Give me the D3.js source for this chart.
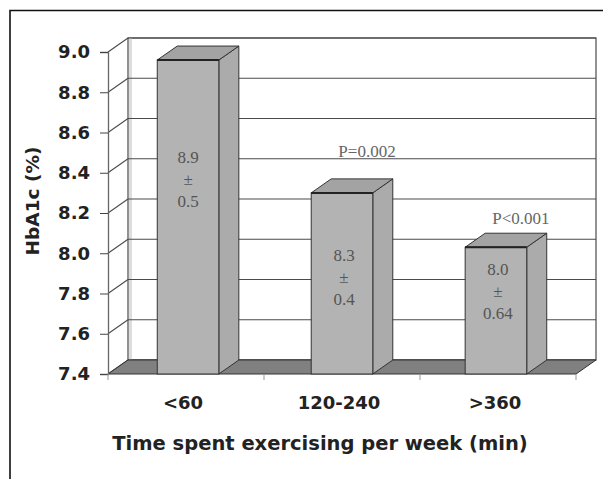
<!DOCTYPE html>
<html>
<head>
<meta charset="utf-8">
<script src="https://cdn.jsdelivr.net/npm/d3@7"></script>
<style>
  html, body { margin: 0; padding: 0; background: #fff; }
  svg { display: block; }
</style>
</head>
<body>
<svg id="chart" width="603" height="479"></svg>
<script>
// ---- data ----
const categories = ["<60", "120-240", ">360"];
const values = [8.96, 8.30, 8.03];
const meanLabels = ["8.9", "8.3", "8.0"];
const sdLabels = ["0.5", "0.4", "0.64"];
const labelAnchor = [8.37, 7.88, 7.81];          // value level of the "±" line
const pLabels = ["", "P=0.002", "P<0.001"];
const pAnchor = [null, 8.51, 8.175];             // value level of the P text
const yTicks = [7.4, 7.6, 7.8, 8.0, 8.2, 8.4, 8.6, 8.8, 9.0];
const yTitle = "HbA1c (%)";
const xTitle = "Time spent exercising per week (min)";

// ---- layout ----
const svg = d3.select("#chart");
const X0 = 108, X1 = 576, Y0 = 374, Y1 = 52;
const DX = 20, DY = -14;
const sans = "DejaVu Sans, Verdana, sans-serif";
const serif = "Liberation Serif, Times New Roman, serif";

const y = d3.scaleLinear().domain([7.4, 9.0]).range([Y0, Y1]);
const xCat = d3.scaleBand().domain(categories).range([X0, X1]).padding(0);
const xBar = d3.scaleBand().domain(categories).range([X0, X1]).paddingInner(0.6).paddingOuter(0.32);

// frame
svg.append("path").attr("d", `M10,479 L10,10.5 L603,10.5`)
  .attr("fill", "none").attr("stroke", "#111").attr("stroke-width", 1.6);

const grid = "#4a4a4a";

// back wall
svg.append("rect").attr("x", X0 + DX).attr("y", Y1 + DY)
  .attr("width", X1 - X0).attr("height", Y0 - Y1)
  .attr("fill", "#fff").attr("stroke", grid).attr("stroke-width", 1.2);
svg.append("rect").attr("x", X0 + DX + 1).attr("y", Y1 + DY)
  .attr("width", 3).attr("height", Y0 - Y1).attr("fill", "#ddd");

// gridlines on back wall + left wall
yTicks.forEach(t => {
  svg.append("line").attr("x1", X0 + DX).attr("x2", X1 + DX)
    .attr("y1", y(t) + DY).attr("y2", y(t) + DY)
    .attr("stroke", grid).attr("stroke-width", 1.1);
  svg.append("line").attr("x1", X0).attr("x2", X0 + DX)
    .attr("y1", y(t)).attr("y2", y(t) + DY)
    .attr("stroke", grid).attr("stroke-width", 1.1);
});

// floor
svg.append("path")
  .attr("d", `M${X0},${Y0} L${X1},${Y0} L${X1 + DX},${Y0 + DY} L${X0 + DX},${Y0 + DY} Z`)
  .attr("fill", "#808080").attr("stroke", "#333").attr("stroke-width", 1);

// y axis
const yAxis = d3.axisLeft(y).tickValues(yTicks).tickFormat(d3.format(".1f"))
  .tickSize(8).tickPadding(10);
const ya = svg.append("g").attr("transform", `translate(${X0},0)`).call(yAxis);
ya.select(".domain").attr("stroke", "#666").attr("stroke-width", 1.3);
ya.selectAll(".tick line").attr("stroke", "#444");
ya.selectAll("text").attr("font-family", sans)
  .attr("font-weight", "bold").attr("font-size", 18).attr("fill", "#222");

// x axis ticks (category boundaries)
const bounds = [X0].concat(categories.map(c => xCat(c) + xCat.bandwidth()));
bounds.forEach(b => {
  svg.append("line").attr("x1", b).attr("x2", b).attr("y1", Y0).attr("y2", Y0 + 6)
    .attr("stroke", "#999").attr("stroke-width", 1);
});
svg.append("g").selectAll("text").data(categories).join("text")
  .attr("x", c => xCat(c) + xCat.bandwidth() / 2 - 3)
  .attr("y", 409)
  .attr("text-anchor", "middle")
  .attr("font-family", sans)
  .attr("font-weight", "bold").attr("font-size", 18).attr("fill", "#222")
  .text(c => c);

// bars
const bars = svg.append("g");
categories.forEach((c, i) => {
  const xl = xBar(c), xr = xl + xBar.bandwidth();
  const yt = y(values[i]);
  const g = bars.append("g");
  // side
  g.append("path")
    .attr("d", `M${xr},${Y0} L${xr},${yt} L${xr + DX},${yt + DY} L${xr + DX},${Y0 + DY} Z`)
    .attr("fill", "#ababab").attr("stroke", "#333").attr("stroke-width", 1);
  // top
  g.append("path")
    .attr("d", `M${xl},${yt} L${xr},${yt} L${xr + DX},${yt + DY} L${xl + DX},${yt + DY} Z`)
    .attr("fill", "#a3a3a3").attr("stroke", "#333").attr("stroke-width", 1);
  // front
  g.append("rect").attr("x", xl).attr("y", yt).attr("width", xr - xl).attr("height", Y0 - yt)
    .attr("fill", "#b3b3b3").attr("stroke", "#333").attr("stroke-width", 1);
  g.append("line").attr("x1", xl).attr("x2", xr).attr("y1", yt).attr("y2", yt)
    .attr("stroke", "#222").attr("stroke-width", 2);

  // mean ± sd labels
  const cx = (xl + xr) / 2 + (i === 0 ? 0 : 2);
  const cy = y(labelAnchor[i]);
  const lines = [meanLabels[i], "±", sdLabels[i]];
  lines.forEach((t, k) => {
    g.append("text").attr("x", cx).attr("y", cy + (k - 1) * 22 + 6)
      .attr("text-anchor", "middle")
      .attr("font-family", serif)
      .attr("font-size", 17).attr("fill", "#555").text(t);
  });

  if (pLabels[i]) {
    svg.append("text").attr("x", (xl + xr) / 2 + DX + 5).attr("y", y(pAnchor[i]) + 6)
      .attr("text-anchor", "middle")
      .attr("font-family", serif)
      .attr("font-size", 17).attr("fill", "#666").text(pLabels[i]);
  }
});

// titles
svg.append("text")
  .attr("transform", `translate(39,201) rotate(-90)`)
  .attr("text-anchor", "middle")
  .attr("font-family", sans)
  .attr("font-weight", "bold").attr("font-size", 18.5).attr("fill", "#222")
  .text(yTitle);
svg.append("text")
  .attr("x", 320).attr("y", 450)
  .attr("text-anchor", "middle")
  .attr("font-family", sans)
  .attr("font-weight", "bold").attr("font-size", 19.5).attr("fill", "#222")
  .text(xTitle);
</script>
</body>
</html>
